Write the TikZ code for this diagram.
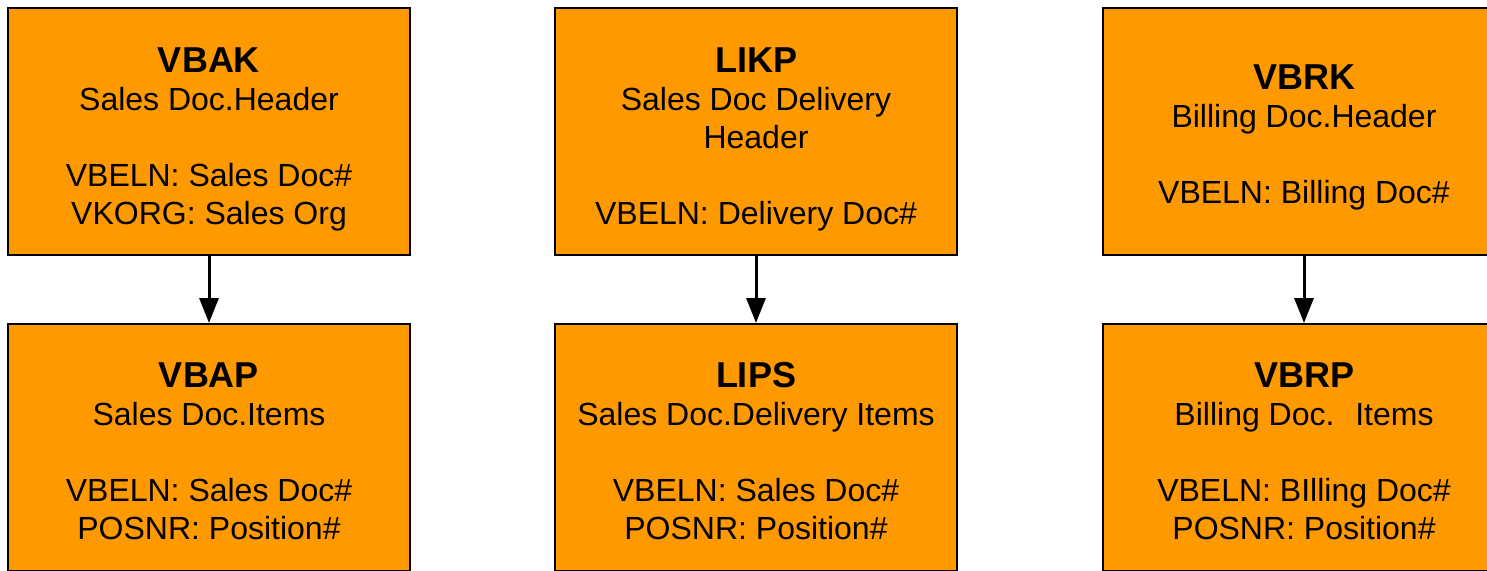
\documentclass[tikz,border=0pt]{standalone}
\usepackage{fontspec}
\setmainfont{Liberation Sans}
\usetikzlibrary{arrows.meta}
\definecolor{tblorange}{HTML}{FF9900}
% table name line; the strut pushes the text block down a little
\newcommand\tblname[2][40pt]{{\fontsize{36}{41}\selectfont\bfseries\rule{0pt}{#1}#2}}

\begin{document}
\begin{tikzpicture}[x=1pt,y=-1pt,
  tbl/.style={draw=black, line width=2pt, fill=tblorange, minimum width=402pt, minimum height=247pt,
    align=center, inner sep=0pt, font=\fontsize{32}{38}\selectfont},
  link/.style={line width=3pt, -{Triangle[length=25pt,width=19pt]}}]
\useasboundingbox (0,0) rectangle (1487,570);
\clip (0,0) rectangle (1487,570);
% header tables
\node [tbl] (vbak) at (209,131.5) {\tblname{VBAK}\\Sales Doc.Header\\[38pt]VBELN: Sales Doc\#\\VKORG: Sales Org};
\node [tbl] (likp) at (756,131.5) {\tblname{LIKP}\\Sales Doc Delivery\\Header\\[38pt]VBELN: Delivery Doc\#};
\node [tbl] (vbrk) at (1304,131.5) {\tblname[37pt]{VBRK}\\Billing Doc.Header\\[38pt]VBELN: Billing Doc\#};
% item tables
\node [tbl] (vbap) at (209,447.5) {\tblname[33pt]{VBAP}\\Sales Doc.Items\\[38pt]VBELN: Sales Doc\#\\POSNR: Position\#};
\node [tbl] (lips) at (756,447.5) {\tblname[33pt]{LIPS}\\Sales Doc.Delivery Items\\[38pt]VBELN: Sales Doc\#\\POSNR: Position\#};
\node [tbl] (vbrp) at (1304,447.5) {\tblname[33pt]{VBRP}\\Billing Doc.~ Items\\[38pt]VBELN: BIlling Doc\#\\POSNR: Position\#};
\draw [link] (vbak) -- (vbap);
\draw [link] (likp) -- (lips);
\draw [link] (vbrk) -- (vbrp);
\end{tikzpicture}
\end{document}
